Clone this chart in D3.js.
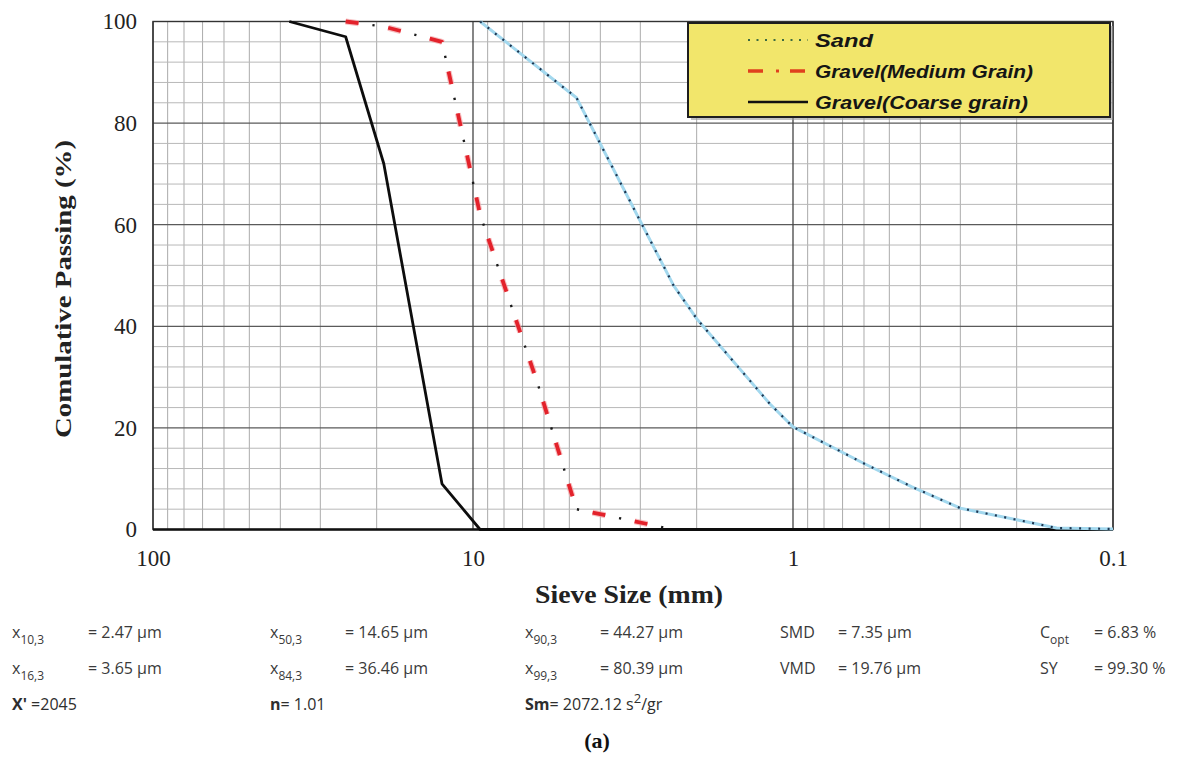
<!DOCTYPE html>
<html>
<head>
<meta charset="utf-8">
<script src="https://cdn.jsdelivr.net/npm/d3@7"></script>
<style>
  body { margin: 0; background: #fff; }
  svg { display: block; }
</style>
</head>
<body>
<svg id="chart" width="1195" height="764"></svg>
<script>
// ---- Grading data: sieve opening (mm) and cumulative passing (%) ----
const sandSize   = [9.5, 4.75, 2.36, 2, 1.18, 1, 0.6, 0.425, 0.3, 0.15, 0.1];
const sandPass   = [100, 85, 48, 41.5, 24.7, 20.2, 13, 8.4, 4.2, 0.3, 0.1];

const mediumSize = [25, 19, 12.5, 9.5, 6.3, 4.75, 2.36];
const mediumPass = [100, 99, 96, 62, 29, 4, 0];

const coarseSize = [37.5, 25, 19, 12.5, 9.5, 4.75, 2.36, 1.18, 0.6, 0.3, 0.15, 0.1];
const coarsePass = [100, 97, 72, 9, 0, 0, 0, 0, 0, 0, 0, 0];

const seriesNames = ["Sand", "Gravel(Medium Grain)", "Gravel(Coarse grain)"];

// ---- Axis ticks ----
const xTickValues = [100, 10, 1, 0.1];
const xTickLabels = ["100", "10", "1", "0.1"];
const yTickValues = [0, 20, 40, 60, 80, 100];

// ---- Summary statistics printed under the chart ----
const statRow1 = [
  { name: "x", sub: "10,3", value: "= 2.47 µm" },
  { name: "x", sub: "50,3", value: "= 14.65 µm" },
  { name: "x", sub: "90,3", value: "= 44.27 µm" },
  { name: "SMD", sub: "", value: "= 7.35 µm" },
  { name: "C", sub: "opt", value: "= 6.83 %" }
];
const statRow2 = [
  { name: "x", sub: "16,3", value: "= 3.65 µm" },
  { name: "x", sub: "84,3", value: "= 36.46 µm" },
  { name: "x", sub: "99,3", value: "= 80.39 µm" },
  { name: "VMD", sub: "", value: "= 19.76 µm" },
  { name: "SY", sub: "", value: "= 99.30 %" }
];
const statRow3 = [
  { name: "X'", value: " =2045" },
  { name: "n", value: "= 1.01" },
  { name: "Sm", value: "= 2072.12 s", sup: "2", tail: "/gr" }
];

// ---- Layout ----
const svg = d3.select("#chart");
const W = 1195, H = 764;
const plot = { left: 153, right: 1113, top: 21.5, bottom: 529.5 };

const x = d3.scaleLog().domain([100, 0.1]).range([plot.left, plot.right]);
const y = d3.scaleLinear().domain([0, 100]).range([plot.bottom, plot.top]);

svg.append("rect").attr("width", W).attr("height", H).attr("fill", "#fff");

// ---- Grid ----
const grid = svg.append("g");
const minorX = x.ticks().filter(v => !xTickValues.includes(v));
grid.selectAll("line.vminor").data(minorX).join("line")
  .attr("x1", d => x(d)).attr("x2", d => x(d))
  .attr("y1", plot.top).attr("y2", plot.bottom)
  .attr("stroke", "#ababab").attr("stroke-width", 1);

const minorY = d3.range(0, 101, 4).filter(v => v % 20 !== 0);
grid.selectAll("line.hminor").data(minorY).join("line")
  .attr("x1", plot.left).attr("x2", plot.right)
  .attr("y1", d => y(d)).attr("y2", d => y(d))
  .attr("stroke", "#b8b8b8").attr("stroke-width", 1);

grid.selectAll("line.hmajor").data(yTickValues).join("line")
  .attr("x1", plot.left).attr("x2", plot.right)
  .attr("y1", d => y(d)).attr("y2", d => y(d))
  .attr("stroke", "#5a5a5a").attr("stroke-width", 1.2);

grid.selectAll("line.vmajor").data(xTickValues).join("line")
  .attr("x1", d => x(d)).attr("x2", d => x(d))
  .attr("y1", plot.top).attr("y2", plot.bottom)
  .attr("stroke", "#444").attr("stroke-width", 1.3);

// Frame
svg.append("rect")
  .attr("x", plot.left).attr("y", plot.top)
  .attr("width", plot.right - plot.left).attr("height", plot.bottom - plot.top)
  .attr("fill", "none").attr("stroke", "#333").attr("stroke-width", 1.4);
svg.append("line")
  .attr("x1", plot.left).attr("x2", plot.right)
  .attr("y1", plot.bottom).attr("y2", plot.bottom)
  .attr("stroke", "#111").attr("stroke-width", 2.5);

// ---- Axes ----
const serif = "'Liberation Serif', 'Times New Roman', serif";

const yAxis = svg.append("g")
  .attr("transform", `translate(${plot.left},0)`)
  .call(d3.axisLeft(y).tickValues(yTickValues).tickSize(0).tickPadding(16));
yAxis.select(".domain").remove();
yAxis.selectAll("text")
  .attr("font-family", serif).attr("font-size", 23).attr("fill", "#222");

const xAxis = svg.append("g")
  .attr("transform", `translate(0,${plot.bottom})`)
  .call(d3.axisBottom(x).tickValues(xTickValues).tickSize(0).tickPadding(20)
    .tickFormat((d, i) => xTickLabels[i]));
xAxis.select(".domain").remove();
xAxis.selectAll("text")
  .attr("font-family", serif).attr("font-size", 23).attr("fill", "#222");

svg.append("text")
  .attr("x", 629).attr("y", 603)
  .attr("text-anchor", "middle")
  .attr("font-family", serif).attr("font-weight", "bold").attr("font-size", 25)
  .attr("fill", "#222")
  .attr("textLength", 188).attr("lengthAdjust", "spacingAndGlyphs")
  .text("Sieve Size (mm)");

svg.append("text")
  .attr("transform", "translate(71,289) rotate(-90)")
  .attr("text-anchor", "middle")
  .attr("font-family", serif).attr("font-weight", "bold").attr("font-size", 24)
  .attr("fill", "#222")
  .attr("textLength", 298).attr("lengthAdjust", "spacingAndGlyphs")
  .text("Comulative Passing (%)");

// ---- Curves ----
const toPoints = (sizes, pass) => sizes.map((s, i) => ({ s, p: pass[i] }));
const line = d3.line().x(d => x(d.s)).y(d => y(d.p));

const sandPts = toPoints(sandSize, sandPass);
const mediumPts = toPoints(mediumSize, mediumPass);
const coarsePts = toPoints(coarseSize, coarsePass);

const curves = svg.append("g").attr("fill", "none").attr("stroke-linejoin", "round");

// Coarse gravel: solid black
curves.append("path").datum(coarsePts)
  .attr("d", line)
  .attr("stroke", "#0d0d0d").attr("stroke-width", 2.8);

// Medium gravel: red dash with black dot between dashes
curves.append("path").datum(mediumPts)
  .attr("d", line)
  .attr("stroke", "#f4a5a8").attr("stroke-width", 6)
  .attr("stroke-dasharray", "13,30").attr("opacity", 0.7);
curves.append("path").datum(mediumPts)
  .attr("d", line)
  .attr("stroke", "#e3222b").attr("stroke-width", 3.8)
  .attr("stroke-dasharray", "13,30");
curves.append("path").datum(mediumPts)
  .attr("d", line)
  .attr("stroke", "#1a1a1a").attr("stroke-width", 2.4)
  .attr("stroke-dasharray", "0,27,2.2,13.8");

// Sand: light blue line under a dark dotted line
curves.append("path").datum(sandPts)
  .attr("d", line)
  .attr("stroke", "#a3d8ee").attr("stroke-width", 3);
curves.append("path").datum(sandPts)
  .attr("d", line)
  .attr("stroke", "#1d3550").attr("stroke-width", 2.2)
  .attr("stroke-dasharray", "2,7.5");

// ---- Legend ----
const lg = svg.append("g");
lg.append("rect")
  .attr("x", 691).attr("y", 26).attr("width", 422).attr("height", 94)
  .attr("fill", "#9a9a9a").attr("opacity", 0.6);
lg.append("rect")
  .attr("x", 688).attr("y", 23).attr("width", 422).attr("height", 94)
  .attr("fill", "#f2e66b").attr("stroke", "#1e1e1e").attr("stroke-width", 2);

const legendY = [40, 71, 102];
const legendLen = [58, 218, 213];
const lx1 = 748, lx2 = 808;

lg.append("line").attr("x1", lx1).attr("x2", lx2).attr("y1", legendY[0]).attr("y2", legendY[0])
  .attr("stroke", "#3c6a40").attr("stroke-width", 2).attr("stroke-dasharray", "2,6.5");
lg.append("line").attr("x1", lx1).attr("x2", lx2).attr("y1", legendY[1]).attr("y2", legendY[1])
  .attr("stroke", "#e0401e").attr("stroke-width", 3.6).attr("stroke-dasharray", "15,27");
lg.append("line").attr("x1", lx1).attr("x2", lx2).attr("y1", legendY[1]).attr("y2", legendY[1])
  .attr("stroke", "#e0401e").attr("stroke-width", 3).attr("stroke-dasharray", "0,28,3,29");
lg.append("line").attr("x1", lx1).attr("x2", lx2).attr("y1", legendY[2]).attr("y2", legendY[2])
  .attr("stroke", "#111").attr("stroke-width", 2.6);

lg.selectAll("text.lab").data(seriesNames).join("text")
  .attr("x", 815).attr("y", (d, i) => legendY[i])
  .attr("dy", "0.35em")
  .attr("font-family", "'Liberation Sans', Arial, sans-serif")
  .attr("font-weight", "bold").attr("font-style", "italic")
  .attr("font-size", 19).attr("fill", "#151515")
  .attr("textLength", (d, i) => legendLen[i]).attr("lengthAdjust", "spacingAndGlyphs")
  .text(d => d);

// ---- Statistics block ----
const sans = "'Open Sans', 'Noto Sans', sans-serif";
const colName = [12, 270, 525, 780, 1040];
const colValue = [88, 345, 600, 838, 1094];

function drawRow(row, baseline) {
  row.forEach((r, i) => {
    const t = svg.append("text")
      .attr("x", colName[i]).attr("y", baseline)
      .attr("font-family", sans).attr("font-size", 16).attr("fill", "#3a3a3a");
    t.append("tspan").text(r.name);
    if (r.sub) {
      t.append("tspan").attr("dy", 6).attr("font-size", 12).text(r.sub);
    }
    svg.append("text")
      .attr("x", colValue[i]).attr("y", baseline)
      .attr("font-family", sans).attr("font-size", 16).attr("fill", "#3a3a3a")
      .text(r.value);
  });
}
drawRow(statRow1, 638);
drawRow(statRow2, 674);

statRow3.forEach((r, i) => {
  const t = svg.append("text")
    .attr("x", colName[i]).attr("y", 710)
    .attr("font-family", sans).attr("font-size", 16).attr("fill", "#2e2e2e");
  t.append("tspan").attr("font-weight", "bold").text(r.name);
  t.append("tspan").text(r.value);
  if (r.sup) {
    t.append("tspan").attr("dy", -7).attr("font-size", 13).text(r.sup);
    t.append("tspan").attr("dy", 7).text(r.tail);
  }
});

svg.append("text")
  .attr("x", 597).attr("y", 748)
  .attr("text-anchor", "middle")
  .attr("font-family", serif).attr("font-weight", "bold").attr("font-size", 22)
  .attr("fill", "#111")
  .text("(a)");
</script>
</body>
</html>
